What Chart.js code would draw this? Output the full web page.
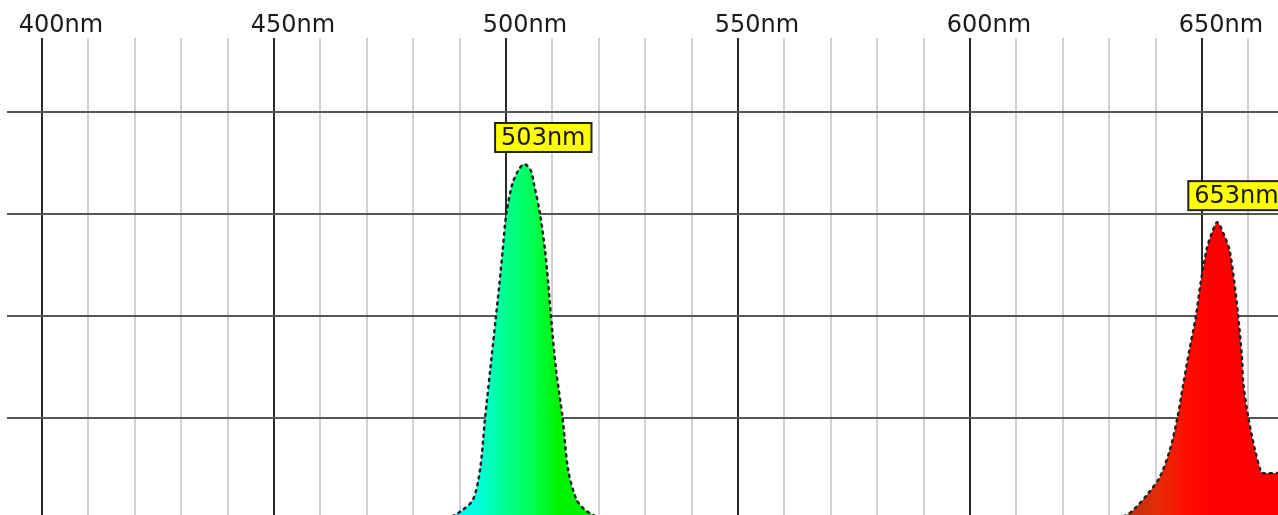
<!DOCTYPE html>
<html>
<head>
<meta charset="utf-8">
<script src="https://cdn.jsdelivr.net/npm/chart.js@4/dist/chart.umd.min.js"></script>
<style>
    html, body { margin: 0; padding: 0; background: #fff; }
    #wrap { width: 1278px; height: 515px; overflow: hidden; }
</style>
</head>
<body>
<div id="wrap">
    <canvas id="spectrumChart" width="1278" height="520"></canvas>
</div>
<script>
'use strict';

// wavelength (nm) and relative intensity
var wavelengths = [
    392, 486, 489.0, 490.7, 492.9, 494.4, 495.5, 496.6, 497.8, 498.6, 499.3, 500.1, 501.4, 502.7,
    503.9, 505.3, 506.0, 507.3, 508.4, 509.1, 509.7, 510.8, 512.2, 513.4, 515.2, 517.0, 518.8, 521,
    630, 633.8, 635.9, 638.4, 640.9, 643.1, 644.7, 646.0, 647.3, 648.7, 649.7, 651.0, 652.1,
    653.3, 654.6, 655.9, 657.0, 657.8, 658.6, 658.9, 660.0, 661.4, 662.7, 663.0, 667
];
var intensity = [
    0, 0, 0.05, 0.10, 0.20, 0.49, 1.00, 1.47, 1.98, 2.32, 2.65, 3.01, 3.30, 3.43,
    3.49, 3.43, 3.30, 3.01, 2.65, 2.32, 1.99, 1.47, 1.00, 0.49, 0.20, 0.10, 0.05, 0,
    0, 0.05, 0.13, 0.26, 0.42, 0.69, 1.00, 1.34, 1.67, 2.00, 2.32, 2.65, 2.81,
    2.92, 2.81, 2.65, 2.32, 2.00, 1.60, 1.34, 1.00, 0.69, 0.47, 0.46, 0.46
];

var gridNm = [400, 410, 420, 430, 440, 450, 460, 470, 480, 490, 500, 510, 520, 530,
              540, 550, 560, 570, 580, 590, 600, 610, 620, 630, 640, 650, 660];
var tickLabels = { 400: '400nm', 450: '450nm', 500: '500nm', 550: '550nm', 600: '600nm', 650: '650nm' };
var gridLevels = [1, 2, 3, 4];

var peakNm = [503.9, 653.3];
var peakLabels = ['503nm', '653nm'];

var fontFamily = "'DejaVu Sans', Verdana, sans-serif";

// spectral colour under the curve
var colorStops = [
    [486, '#00ffff'], [494, '#00ffdc'], [500, '#00ff90'], [506, '#00ff50'], [511, '#00f400'],
    [522, '#00ee00'], [626, '#a02a10'], [634, '#b83214'], [641, '#ea2a04'], [647, '#ff0c00'],
    [652, '#ff0000'], [667, '#ff0000']
];

function spectrumFill(context) {
    var chart = context.chart;
    var area = chart.chartArea;
    if (!area) {
        return '#00ff00';
    }
    var xs = chart.scales.x;
    var grad = chart.ctx.createLinearGradient(area.left, 0, area.right, 0);
    colorStops.forEach(function (s) {
        var off = (xs.getPixelForValue(s[0]) - area.left) / (area.right - area.left);
        grad.addColorStop(Math.min(1, Math.max(0, off)), s[1]);
    });
    return grad;
}

var peakTags = {
    id: 'peakTags',
    afterDatasetsDraw: function (chart) {
        var ctx = chart.ctx;
        var xs = chart.scales.x, ys = chart.scales.y;
        ctx.save();
        ctx.font = '24px ' + fontFamily;
        peakNm.forEach(function (nm, i) {
            var val = intensity[wavelengths.indexOf(nm)];
            var px = xs.getPixelForValue(nm);
            var py = ys.getPixelForValue(val);
            var w = ctx.measureText(peakLabels[i]).width + 12;
            var h = 29;
            var left = px - 29, top = py - 12 - h;
            ctx.fillStyle = '#ffff00';
            ctx.fillRect(left, top, w, h);
            ctx.lineWidth = 2;
            ctx.strokeStyle = '#222';
            ctx.strokeRect(left, top, w, h);
            ctx.fillStyle = '#1a1a1a';
            ctx.textBaseline = 'middle';
            ctx.textAlign = 'left';
            ctx.fillText(peakLabels[i], left + 6, top + h / 2 + 1);
        });
        ctx.restore();
    }
};

var points = wavelengths.map(function (nm, i) {
    return { x: nm, y: intensity[i] };
});

var spectrumChart = new Chart(document.getElementById('spectrumChart'), {
    type: 'line',
    data: {
        datasets: [{
            data: points,
            fill: 'origin',
            backgroundColor: spectrumFill,
            borderColor: '#222',
            borderWidth: 2.5,
            borderDash: [2, 5],
            borderCapStyle: 'round',
            pointRadius: 0,
            tension: 0.3
        }]
    },
    options: {
        responsive: false,
        animation: false,
        devicePixelRatio: 1,
        layout: { padding: { left: 7, right: 0, top: 0, bottom: 0 } },
        plugins: {
            legend: { display: false },
            tooltip: { enabled: false }
        },
        scales: {
            x: {
                type: 'linear',
                position: 'top',
                min: 392.46,
                max: 666.38,
                afterBuildTicks: function (scale) {
                    scale.ticks = gridNm.map(function (v) { return { value: v }; });
                },
                afterFit: function (scale) {
                    scale.height = 38;
                },
                border: { display: false },
                grid: {
                    drawTicks: false,
                    lineWidth: 2,
                    color: function (c) {
                        return c.tick && c.tick.value % 50 === 0 ? '#2a2a2a' : '#d0d0d0';
                    }
                },
                ticks: {
                    autoSkip: false,
                    maxRotation: 0,
                    padding: -2,
                    labelOffset: 19,
                    color: '#1a1a1a',
                    font: { family: fontFamily, size: 24 },
                    callback: function (value) {
                        return tickLabels[value] || '';
                    }
                }
            },
            y: {
                min: 0,
                max: 4.725,
                afterBuildTicks: function (scale) {
                    scale.ticks = gridLevels.map(function (v) { return { value: v }; });
                },
                afterFit: function (scale) {
                    scale.width = 0;
                },
                border: { display: false },
                grid: {
                    drawTicks: false,
                    lineWidth: 2,
                    color: '#555'
                },
                ticks: { display: false }
            }
        }
    },
    plugins: [peakTags]
});
</script>
</body>
</html>
